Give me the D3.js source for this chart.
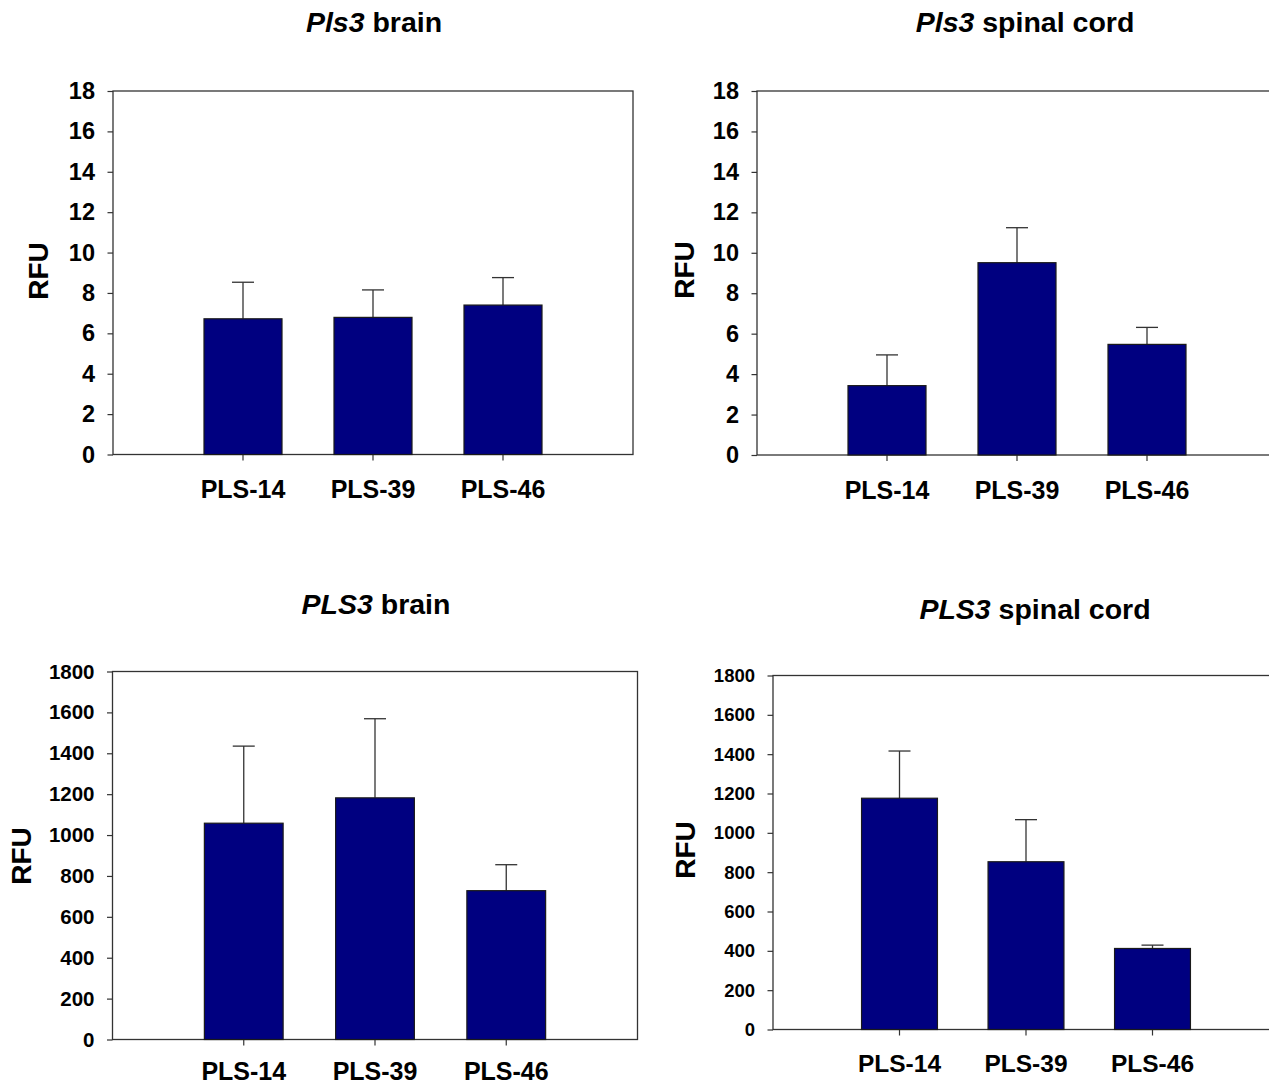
<!DOCTYPE html>
<html>
<head>
<meta charset="utf-8">
<script src="https://cdn.jsdelivr.net/npm/d3@7"></script>
<style>
  html, body { margin: 0; padding: 0; background: #fff; }
  svg { display: block; font-family: "Liberation Sans", Arial, sans-serif; }
</style>
</head>
<body>
<svg id="chart" width="1269" height="1084"></svg>
<script>
// ---- data ----
const categories = ["PLS-14", "PLS-39", "PLS-46"];

const mouseBrainMean = [6.72, 6.79, 7.40];
const mouseBrainSem  = [1.81, 1.36, 1.36];

const mouseCordMean = [3.43, 9.51, 5.47];
const mouseCordSem  = [1.52, 1.73, 0.84];

const humanBrainMean = [1058, 1182, 728];
const humanBrainSem  = [377, 387, 127];

const humanCordMean = [1176, 853, 412];
const humanCordSem  = [240, 214, 17];

const smallTicks = [0, 2, 4, 6, 8, 10, 12, 14, 16, 18];
const largeTicks = [0, 200, 400, 600, 800, 1000, 1200, 1400, 1600, 1800];

const titleGene = ["Pls3", "Pls3", "PLS3", "PLS3"];
const titleTissue = [" brain", " spinal cord", " brain", " spinal cord"];
const yLabel = "RFU";

// ---- layout (positions only) ----
const panels = [
  { mean: mouseBrainMean, sem: mouseBrainSem, ticks: smallTicks, gene: titleGene[0], tissue: titleTissue[0],
    left: 113, top: 91, bottom: 454.5, width: 520, titleX: 374, titleY: 32, titleSize: 28.5,
    labelY: 498, labelSize: 25, tickSize: 23.5, rfuX: 38, rfuY: 271 },
  { mean: mouseCordMean, sem: mouseCordSem, ticks: smallTicks, gene: titleGene[1], tissue: titleTissue[1],
    left: 757, top: 91, bottom: 455, width: 520, titleX: 1025, titleY: 32, titleSize: 28.5,
    labelY: 499, labelSize: 25, tickSize: 23.5, rfuX: 684, rfuY: 270 },
  { mean: humanBrainMean, sem: humanBrainSem, ticks: largeTicks, gene: titleGene[2], tissue: titleTissue[2],
    left: 112.5, top: 671.5, bottom: 1039.5, width: 525, titleX: 376, titleY: 614, titleSize: 28.5,
    labelY: 1080, labelSize: 25, tickSize: 20.5, rfuX: 21, rfuY: 856 },
  { mean: humanCordMean, sem: humanCordSem, ticks: largeTicks, gene: titleGene[3], tissue: titleTissue[3],
    left: 773, top: 675.5, bottom: 1029.5, width: 506, titleX: 1035, titleY: 619, titleSize: 28.5,
    labelY: 1072, labelSize: 24.5, tickSize: 18.5, rfuX: 685, rfuY: 850 }
];

const svg = d3.select("#chart");
const lineColor = "#333333";
const barColor = "#000080";

panels.forEach(p => {
  const g = svg.append("g");

  const x = d3.scaleBand()
    .domain(categories)
    .range([p.left + p.width / 8, p.left + p.width * 7 / 8])
    .paddingInner(0.4)
    .paddingOuter(0.2);

  const y = d3.scaleLinear()
    .domain([0, d3.max(p.ticks)])
    .range([p.bottom, p.top]);

  // frame
  g.append("rect")
    .attr("x", p.left).attr("y", p.top)
    .attr("width", p.width).attr("height", p.bottom - p.top)
    .attr("fill", "none").attr("stroke", lineColor).attr("stroke-width", 1.3);

  // y axis
  const yAxis = g.append("g")
    .attr("transform", `translate(${p.left},0)`)
    .call(d3.axisLeft(y).tickValues(p.ticks).tickSize(5.5).tickPadding(12.5).tickFormat(d3.format("d")));
  yAxis.select(".domain").remove();
  yAxis.selectAll(".tick line").attr("stroke", lineColor).attr("stroke-width", 1.2);
  yAxis.selectAll(".tick text")
    .attr("fill", "#000")
    .style("font-size", p.tickSize + "px")
    .style("font-weight", "bold");

  // x axis
  const xAxis = g.append("g")
    .attr("transform", `translate(0,${p.bottom})`)
    .call(d3.axisBottom(x).tickSizeInner(6).tickSizeOuter(0));
  xAxis.select(".domain").remove();
  xAxis.selectAll(".tick line").attr("stroke", lineColor).attr("stroke-width", 1.2);
  xAxis.selectAll(".tick text")
    .attr("fill", "#000")
    .attr("y", p.labelY - p.bottom)
    .attr("dy", 0)
    .style("font-size", p.labelSize + "px")
    .style("font-weight", "bold");

  const rows = categories.map((c, i) => ({ c, m: p.mean[i], s: p.sem[i] }));

  // error bars (upper only)
  const eb = g.append("g").attr("stroke", lineColor).attr("stroke-width", 1.3);
  eb.selectAll("line.stem").data(rows).join("line").attr("class", "stem")
    .attr("x1", d => x(d.c) + x.bandwidth() / 2)
    .attr("x2", d => x(d.c) + x.bandwidth() / 2)
    .attr("y1", d => y(d.m))
    .attr("y2", d => y(d.m + d.s));
  eb.selectAll("line.cap").data(rows).join("line").attr("class", "cap")
    .attr("x1", d => x(d.c) + x.bandwidth() / 2 - 11)
    .attr("x2", d => x(d.c) + x.bandwidth() / 2 + 11)
    .attr("y1", d => y(d.m + d.s))
    .attr("y2", d => y(d.m + d.s));

  // bars
  g.selectAll("rect.bar").data(rows).join("rect").attr("class", "bar")
    .attr("x", d => x(d.c))
    .attr("width", x.bandwidth())
    .attr("y", d => y(d.m))
    .attr("height", d => y(0) - y(d.m))
    .attr("fill", barColor)
    .attr("stroke", "#1a1a1a")
    .attr("stroke-width", 1.2);

  // title
  const t = g.append("text")
    .attr("x", p.titleX).attr("y", p.titleY)
    .attr("text-anchor", "middle")
    .style("font-size", p.titleSize + "px")
    .style("font-weight", "bold");
  t.append("tspan").style("font-style", "italic").text(p.gene);
  t.append("tspan").text(p.tissue);

  // y label
  g.append("text")
    .attr("transform", `translate(${p.rfuX},${p.rfuY}) rotate(-90)`)
    .attr("text-anchor", "middle")
    .attr("dy", "0.36em")
    .style("font-size", "28px")
    .style("font-weight", "bold")
    .text(yLabel);
});
</script>
</body>
</html>
